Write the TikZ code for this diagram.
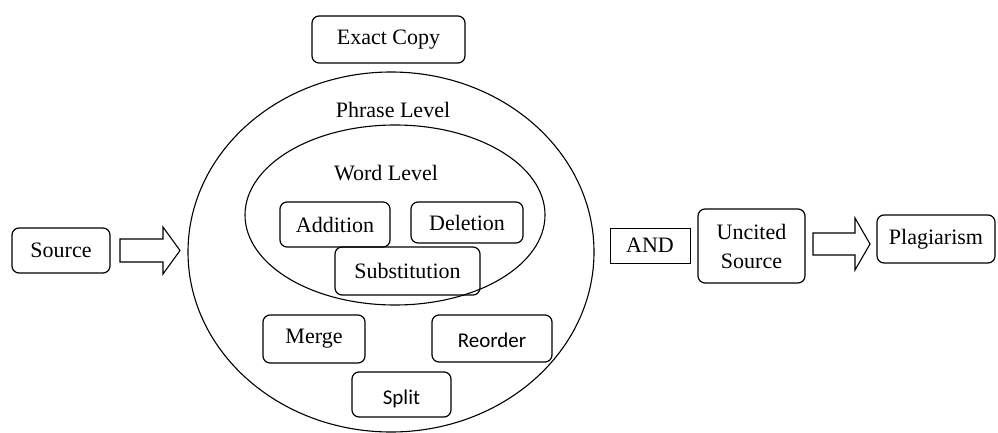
\documentclass[tikz,border=0pt]{standalone}
\usepackage{fontspec}
\setmainfont{Liberation Serif}
\newfontfamily\calfont{Carlito}
\begin{document}
\begin{tikzpicture}[x=1pt,y=-1pt,
  every node/.style={font=\fontsize{22}{29}\selectfont},
  box/.style={draw, line width=1.2pt, rounded corners=7pt, inner sep=0pt, align=center},
  plainbox/.style={draw, line width=1.0pt, inner sep=0pt},
  calibri/.style={font=\calfont\fontsize{21}{28}\selectfont},
  blockarrow/.style={draw, line width=1.1pt, line join=miter},
  ring/.style={draw, line width=1.1pt}]
\useasboundingbox (0,0) rectangle (998,433);

% nested levels
\draw[ring] (391,252) ellipse [x radius=203pt, y radius=180pt];
\draw[ring] (395,215) ellipse [x radius=150pt, y radius=90pt];
\node (phrase) at (393,110) {Phrase Level};
\node (word) at (386,173) {Word Level};

% boxes
\node[box, minimum width=153pt, minimum height=47pt] (exact) at (388.5,39.5) {Exact Copy};
\node[box, minimum width=98pt, minimum height=45pt] (source) at (61,250.5) {Source};
\node[box, minimum width=110pt, minimum height=45pt] (addition) at (335,224.5) {Addition};
\node[box, minimum width=112pt, minimum height=41pt] (deletion) at (467,222.5) {Deletion};
\node[box, minimum width=145pt, minimum height=48pt] (subst) at (407.5,271) {Substitution};
\node[box, minimum width=102pt, minimum height=48pt] (merge) at (314,339) {Merge};
\node[box, calibri, minimum width=120pt, minimum height=47pt] (reorder) at (492,338.5) {\raisebox{-9pt}[0pt][0pt]{Reorder}};
\node[box, calibri, minimum width=99pt, minimum height=45pt] (split) at (401.5,394.5) {\raisebox{-10pt}[0pt][0pt]{Split}};
\node[plainbox, minimum width=80pt, minimum height=35pt] (and) at (650,245.5) {AND};
\node[box, minimum width=107pt, minimum height=74pt] (uncited) at (751.5,246) {Uncited\\Source};
\node[box, minimum width=118pt, minimum height=48pt] (plag) at (936,239) {Plagiarism};

% hollow block arrows
\coordinate (a1) at (120,250.5);
\draw[blockarrow] (a1) ++(0,-11.5) -- ++(43,0) -- ++(0,-12) -- ++(17,23.5)
  -- ++(-17,23.5) -- ++(0,-12) -- ++(-43,0) -- cycle;
\coordinate (a2) at (813,244);
\draw[blockarrow] (a2) ++(0,-11) -- ++(42,0) -- ++(0,-15) -- ++(15,26)
  -- ++(-15,26) -- ++(0,-15) -- ++(-42,0) -- cycle;
\end{tikzpicture}
\end{document}
